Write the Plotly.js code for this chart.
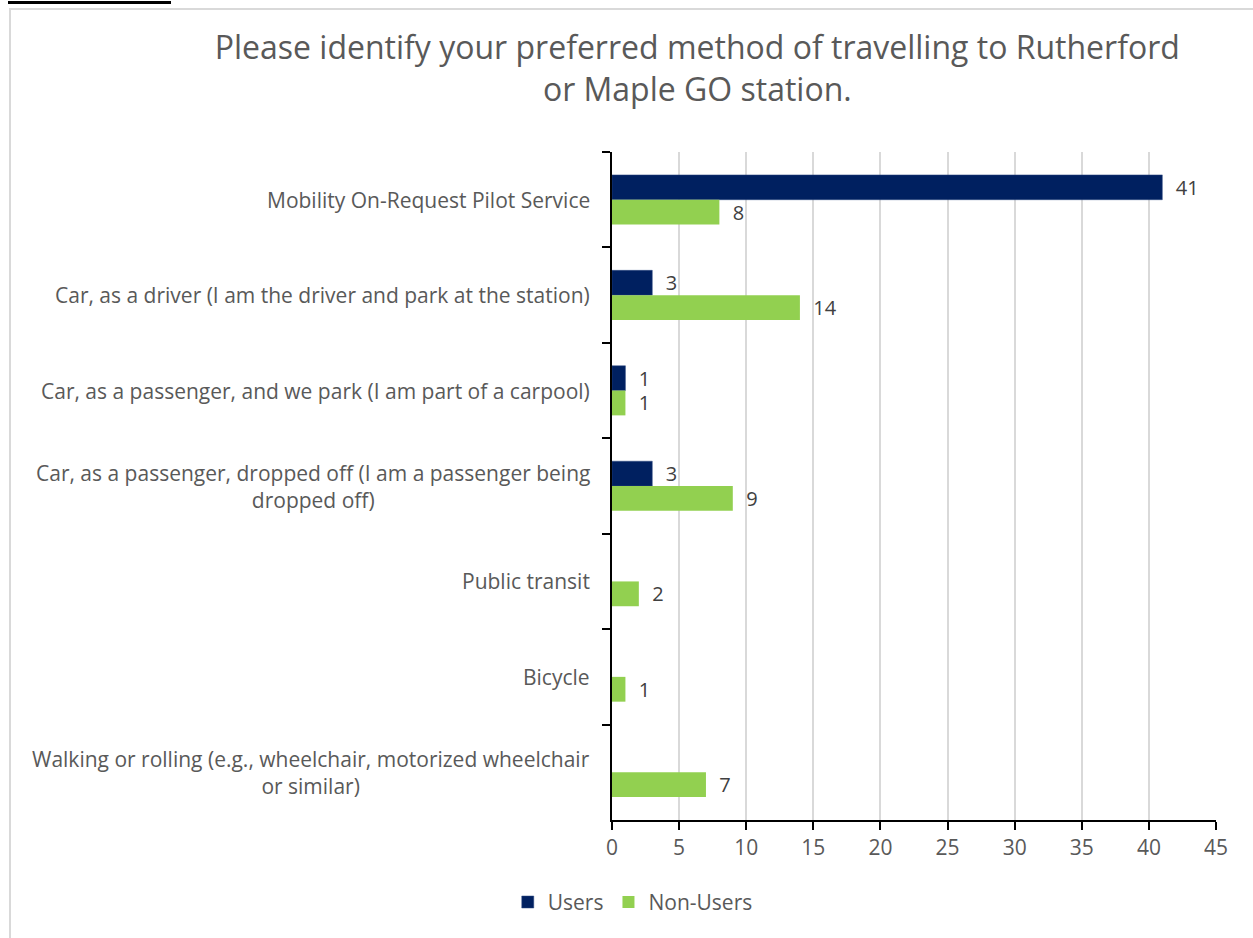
<!DOCTYPE html>
<html>
<head>
<meta charset="utf-8">
<script src="https://cdn.plot.ly/plotly-3.0.1.min.js"></script>
<style>
  html, body { margin: 0; padding: 0; background: #ffffff; }
  #wrap { position: relative; width: 1253px; height: 938px; overflow: hidden; }
  #frame { position: absolute; left: 9px; top: 8px; width: 1300px; height: 1000px;
           border-left: 2px solid #d9d9d9; border-top: 2px solid #d9d9d9; }
  #topbar { position: absolute; left: 8px; top: 1px; width: 163px; height: 3px; background: #000; }
  #chart { position: absolute; left: 0; top: 0; width: 1253px; height: 938px; }
</style>
</head>
<body>
<div id="wrap">
  <div id="frame"></div>
  <div id="topbar"></div>
  <div id="chart"></div>
</div>
<script>
const categories = [
  "Mobility On-Request Pilot Service",
  "Car, as a driver (I am the driver and park at the station)",
  "Car, as a passenger, and we park (I am part of a carpool)",
  "Car, as a passenger, dropped off (I am a passenger being<br>dropped off)",
  "Public transit",
  "Bicycle",
  "Walking or rolling (e.g., wheelchair, motorized wheelchair<br>or similar)"
];
const users = [41, 3, 1, 3, null, null, null];
const nonUsers = [8, 14, 1, 9, 2, 1, 7];
const xTicks = [0, 5, 10, 15, 20, 25, 30, 35, 40, 45];

const FONT = "Open Sans, Noto Sans, sans-serif";
const pad = "\u00a0\u00a0";

const traces = [
  {
    type: "bar", orientation: "h", name: "Users",
    y: categories, x: users,
    marker: { color: "#002060", line: { color: "#2f4a80", width: 0.5 } },
    text: users.map(v => v == null ? "" : pad + v),
    textposition: "outside", cliponaxis: false, constraintext: "none",
    textfont: { family: FONT, size: 20, color: "#404040" },
    hoverinfo: "x+y"
  },
  {
    type: "bar", orientation: "h", name: "Non-Users",
    y: categories, x: nonUsers,
    marker: { color: "#92D050" },
    text: nonUsers.map(v => v == null ? "" : pad + v),
    textposition: "outside", cliponaxis: false, constraintext: "none",
    textfont: { family: FONT, size: 20, color: "#404040" },
    hoverinfo: "x+y"
  }
];

const annotations = categories.map(c => ({
  xref: "paper", yref: "y", x: 0, y: c, xanchor: "right", yanchor: "middle",
  xshift: -20, text: c, showarrow: false, align: "center",
  font: { family: FONT, size: 21, color: "#595959" }
}));

const layout = {
  width: 1253, height: 938,
  paper_bgcolor: "rgba(0,0,0,0)", plot_bgcolor: "rgba(0,0,0,0)",
  margin: { l: 612, r: 37, t: 152, b: 118 },
  title: {
    text: "Please identify your preferred method of travelling to Rutherford<br>or Maple GO station.",
    xref: "container", x: 0.5565, xanchor: "center",
    yref: "container", y: 0.937, yanchor: "top",
    font: { family: FONT, size: 32, color: "#595959" }
  },
  barmode: "group", bargap: 0.48, bargroupgap: 0,
  xaxis: {
    range: [0, 45], tickvals: xTicks, ticktext: xTicks.map(String),
    showgrid: true, gridcolor: "#d9d9d9", gridwidth: 2,
    zeroline: false, showline: true, linecolor: "#000", linewidth: 2,
    ticks: "outside", ticklen: 8, tickcolor: "#000", tickwidth: 2,
    tickfont: { family: FONT, size: 21, color: "#595959" },
    fixedrange: true
  },
  yaxis: {
    autorange: "reversed", type: "category",
    showticklabels: false, showgrid: false, zeroline: false,
    showline: true, linecolor: "#000", linewidth: 2,
    ticks: "outside", tickson: "boundaries", ticklen: 8, tickcolor: "#000", tickwidth: 2,
    fixedrange: true
  },
  showlegend: true,
  legend: {
    orientation: "h", x: 0.505, xref: "container", xanchor: "center",
    y: 0.038, yref: "container", yanchor: "middle",
    font: { family: FONT, size: 21, color: "#595959" },
    traceorder: "normal", itemwidth: 30
  },
  annotations: annotations
};

Plotly.newPlot("chart", traces, layout, { displayModeBar: false, staticPlot: true });
</script>
</body>
</html>
